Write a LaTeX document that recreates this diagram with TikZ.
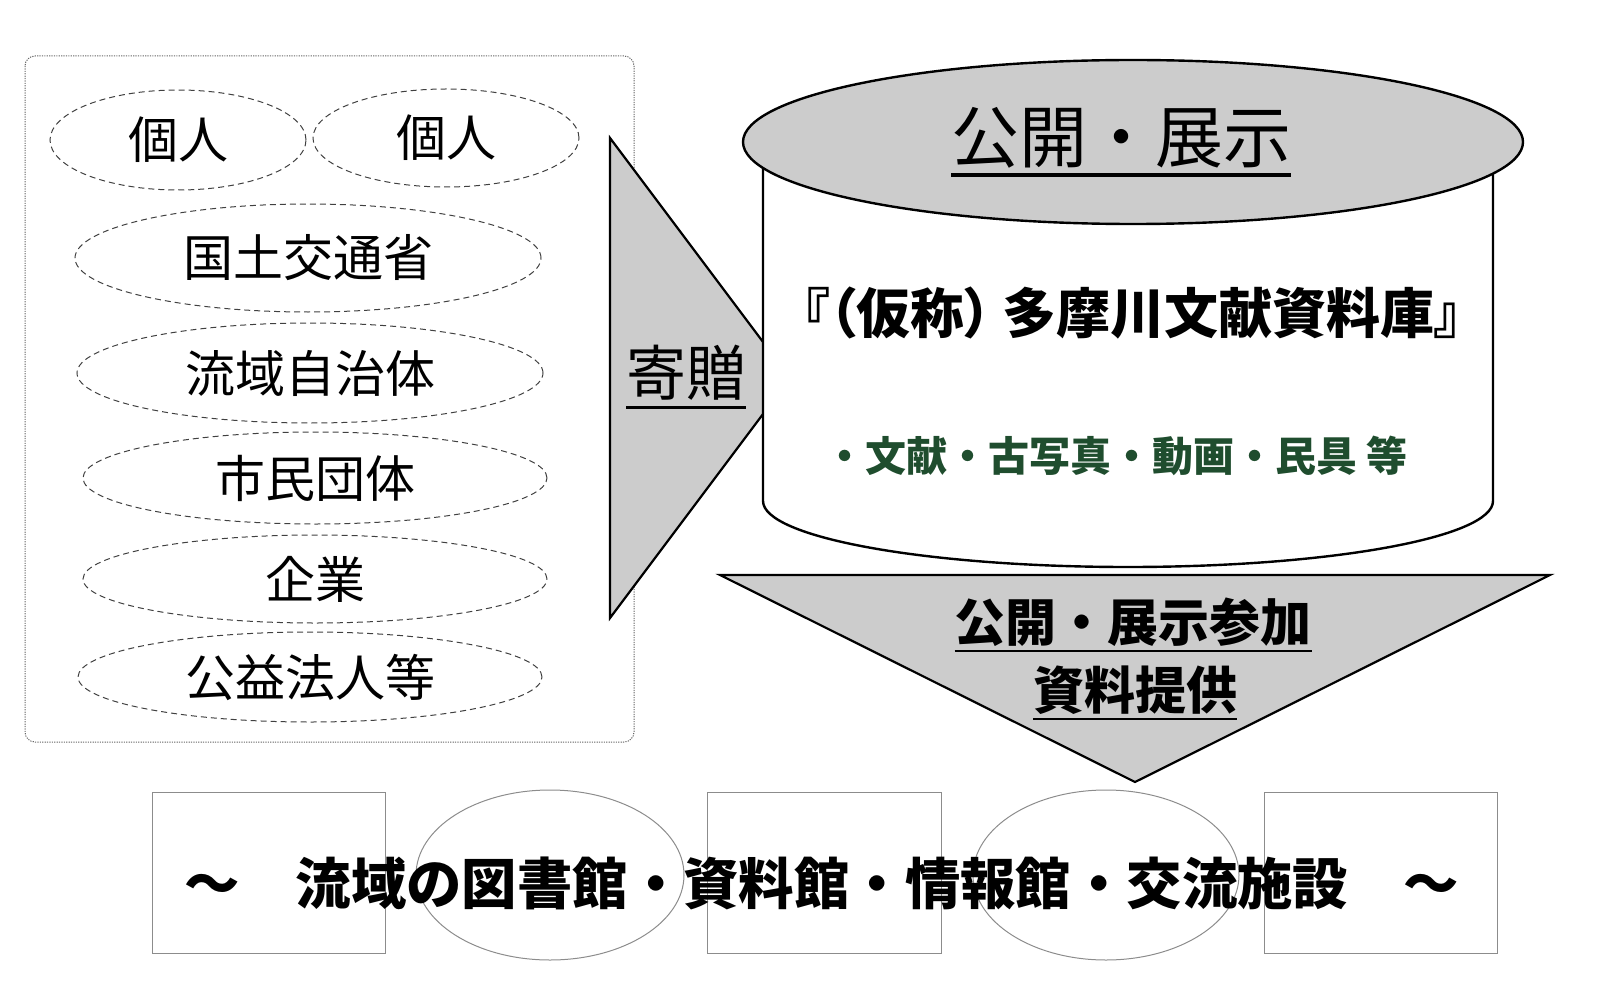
\documentclass[tikz,border=0pt]{standalone}
\usepackage{fontspec}
\setmainfont{Noto Sans CJK JP}
\newfontfamily\jpprop[RawFeature=+palt]{Noto Sans CJK JP}
\usetikzlibrary{shapes.geometric}
\definecolor{roofgray}{HTML}{CCCCCC}
\definecolor{itemgreen}{HTML}{1F4D2E}
% underline with a heavier rule
\newcommand\undr[1]{\setbox0=\hbox{#1}\rlap{\copy0}\rule[-0.21em]{\wd0}{0.05em}}
\tikzset{
  giver/.style={draw=black!75, dash pattern=on 3pt off 2pt, line width=0.5pt, ellipse, inner sep=0pt, font=\fontsize{25pt}{30pt}\selectfont},
  shelf/.style={draw=black!45, line width=0.5pt},
  bigarrow/.style={draw=black, fill=roofgray, line width=1.1pt, line join=miter},
}

\begin{document}
\begin{tikzpicture}[x=0.5pt,y=-0.5pt]
\useasboundingbox (0,0) rectangle (1600,1000);

% donors
\draw[black!60, dash pattern=on 0.6pt off 0.6pt, line width=0.5pt, rounded corners=5pt] (25,56) rectangle (634,742);
\node[giver, minimum width=128pt, minimum height=50pt] (kojinA) at (178,140) {個人};
\node[giver, minimum width=133pt, minimum height=49pt] (kojinB) at (446,138) {個人};
\node[giver, minimum width=233pt, minimum height=54pt] (kuni) at (308,258) {国土交通省};
\node[giver, minimum width=233pt, minimum height=50pt] (jichitai) at (310,373) {流域自治体};
\node[giver, minimum width=232pt, minimum height=46pt] (shimin) at (315,478) {市民団体};
\node[giver, minimum width=232pt, minimum height=44pt] (kigyo) at (315,579) {企業};
\node[giver, minimum width=232pt, minimum height=45pt] (koeki) at (310,677) {公益法人等};

% donation arrow
\draw[bigarrow] (610,138) -- (790,378) -- (610,618) -- cycle;
\node[font=\fontsize{30pt}{36pt}\selectfont] (kizo) at (686,377) {\undr{寄贈}};

% archive
\draw[line width=1.2pt, fill=white] (763,150) -- (763,501)
  arc[start angle=180, end angle=0, x radius=365, y radius=66] -- (1493,150) -- cycle;
\node[draw=black, fill=roofgray, ellipse, line width=1.2pt, minimum width=390pt, minimum height=82pt] (roof) at (1133,142) {};
\node[font=\fontsize{34pt}{40pt}\selectfont] (roofname) at (1121,142) {\undr{公開・展示}};
\node[font=\fontsize{27pt}{33pt}\selectfont\bfseries\jpprop] (bunko) at (1132,313) {『（仮称）\hspace{0.2em}多摩川文献資料庫』};
\node[text=itemgreen, font=\fontsize{20.5pt}{25pt}\selectfont\bfseries] (shiryo) at (1116,456) {・文献・古写真・動画・民具 等};

% offer arrow
\draw[bigarrow] (720,575) -- (1550,575) -- (1135,782) -- cycle;
\node[font=\fontsize{25.5pt}{30pt}\selectfont\bfseries] (sanka) at (1133,625) {\undr{公開・展示参加}};
\node[font=\fontsize{25.5pt}{30pt}\selectfont\bfseries] (teikyo) at (1135,693) {\undr{資料提供}};

% facilities
\draw[shelf] (152,792) rectangle (385,953);
\draw[shelf] (707,792) rectangle (941,953);
\draw[shelf] (1264,792) rectangle (1497,953);
\draw[shelf] (550,875) ellipse [x radius=134, y radius=85];
\draw[shelf] (1106,875) ellipse [x radius=133, y radius=85];
\node[font=\fontsize{27.7pt}{33pt}\selectfont\bfseries] (shisetsu) at (822,883) {～　流域の図書館・資料館・情報館・交流施設　～};
\end{tikzpicture}
\end{document}
